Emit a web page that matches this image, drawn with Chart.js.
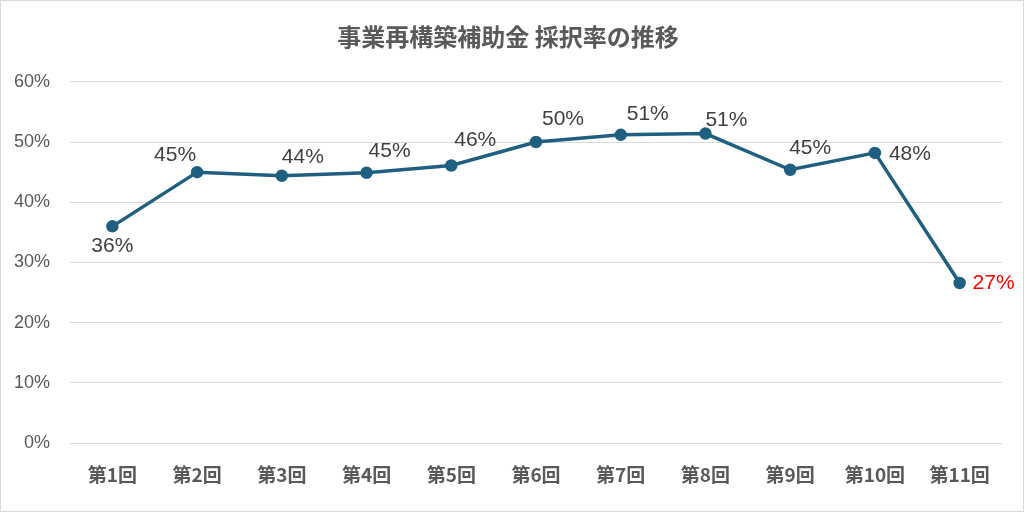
<!DOCTYPE html>
<html>
<head>
    <title>事業再構築補助金 採択率の推移</title>
    <script src="https://cdn.jsdelivr.net/npm/chart.js"></script>
    <style>
        body { margin: 0; background: #fff; }
        #wrap { width: 1024px; height: 512px; box-sizing: border-box; border: 1px solid #d9d9d9; }
    </style>
</head>
<body>
    <div id="wrap"><canvas id="rateChart" width="1022" height="510"></canvas></div>
    <script>
        // data
        const rounds = ['第1回', '第2回', '第3回', '第4回', '第5回', '第6回', '第7回', '第8回', '第9回', '第10回', '第11回'];
        const adoptionRate = [36.0, 45.0, 44.4, 44.9, 46.1, 50.0, 51.2, 51.4, 45.4, 48.2, 26.6];
        const yTicks = [0, 10, 20, 30, 40, 50, 60];

        // where each value label sits relative to its point (dx, dy in px)
        const labelOffsets = [
            [0, 20], [-22, -17], [21, -19], [23, -22], [24, -25], [27, -23],
            [27, -21], [21, -13], [20, -22], [35, 1], [34, 0]
        ];

        const valueLabels = {
            id: 'valueLabels',
            afterDatasetsDraw(chart) {
                const ctx = chart.ctx;
                const meta = chart.getDatasetMeta(0);
                ctx.save();
                ctx.font = '21px "Liberation Sans", Arial, sans-serif';
                ctx.textAlign = 'center';
                ctx.textBaseline = 'middle';
                meta.data.forEach((pt, i) => {
                    const off = labelOffsets[i];
                    ctx.fillStyle = i === meta.data.length - 1 ? '#ff0000' : '#404040';
                    ctx.fillText(Math.round(adoptionRate[i]) + '%', pt.x + off[0], pt.y + off[1]);
                });
                ctx.restore();
            }
        };

        const ctx = document.getElementById('rateChart').getContext('2d');
        new Chart(ctx, {
            type: 'line',
            data: {
                labels: rounds,
                datasets: [{
                    data: adoptionRate,
                    borderColor: '#1f5f80',
                    backgroundColor: '#1f5f80',
                    borderWidth: 3.5,
                    pointRadius: 4.5,
                    pointHoverRadius: 4.5,
                    tension: 0
                }]
            },
            options: {
                responsive: false,
                animation: false,
                layout: { padding: { left: 0, right: 8, top: 0, bottom: 5 } },
                plugins: {
                    legend: { display: false },
                    tooltip: { enabled: false },
                    title: {
                        display: true,
                        text: '事業再構築補助金 採択率の推移',
                        color: '#595959',
                        font: { family: '"Noto Sans CJK JP"', size: 24, weight: 'bold' },
                        padding: { top: 21, bottom: 31 }
                    }
                },
                scales: {
                    x: {
                        offset: true,
                        grid: { display: false, drawTicks: false },
                        border: { display: false },
                        ticks: {
                            color: '#595959',
                            padding: 20,
                            maxRotation: 0,
                            autoSkip: false,
                            font: { family: '"Noto Sans CJK JP"', size: 19, weight: 'bold' }
                        }
                    },
                    y: {
                        min: 0,
                        max: 60,
                        afterFit(scale) { scale.width = 69; },
                        afterBuildTicks(scale) { scale.ticks = yTicks.map(v => ({ value: v })); },
                        grid: { color: '#d9d9d9', lineWidth: 1, drawTicks: false },
                        border: { display: false },
                        ticks: {
                            color: '#595959',
                            padding: 20,
                            font: { family: '"Liberation Sans"', size: 18 },
                            callback: v => v + '%'
                        }
                    },
                    // empty strip on the right so the title sits a little right of the plot centre
                    yRight: {
                        position: 'right',
                        min: 0,
                        max: 60,
                        afterFit(scale) { scale.width = 13; },
                        grid: { display: false, drawTicks: false },
                        border: { display: false },
                        ticks: { display: false }
                    }
                }
            },
            plugins: [valueLabels]
        });
    </script>
</body>
</html>
